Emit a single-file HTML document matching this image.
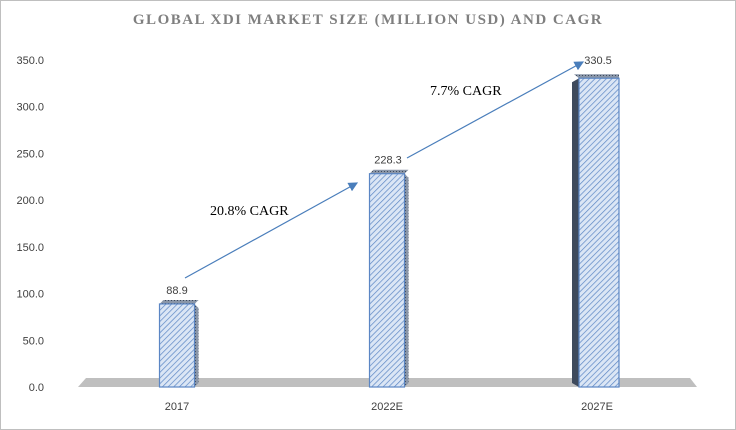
<!DOCTYPE html>
<html><head><meta charset="utf-8"><style>
body{margin:0;background:#fff}
svg{display:block;font-family:"Liberation Sans",sans-serif}
</style></head><body>
<svg width="736" height="430" viewBox="0 0 736 430">
<defs>
<pattern id="hatch" width="4" height="4" patternUnits="userSpaceOnUse" patternTransform="rotate(45)">
<rect width="4" height="4" fill="#dbe6f5"/><line x1="0" y1="0" x2="0" y2="4" stroke="#5b86c4" stroke-width="1.4"/>
</pattern>
<pattern id="dots" width="3" height="3" patternUnits="userSpaceOnUse">
<rect width="3" height="3" fill="#8a96a8"/><rect width="1" height="1" fill="#3e4a5c"/>
</pattern>
<marker id="ah" markerWidth="8" markerHeight="8" refX="7" refY="4" orient="auto"><path d="M0,0 L8,4 L0,8 z" fill="#4a7ebb"/></marker>
</defs>
<rect x="0.5" y="0.5" width="735" height="429" fill="#fff" stroke="#bfbfbf"/>
<text x="368" y="24" text-anchor="middle" font-family="Liberation Serif,serif" font-weight="bold" font-size="15" fill="#7f7f7f" letter-spacing="1.5">GLOBAL XDI MARKET SIZE (MILLION USD) AND CAGR</text>
<g id="yaxis"></g>
<polygon points="86,378 690,378 697,387 78,387" fill="#bfbfbf"/>
<g id="bars"></g>
<line x1="185" y1="278" x2="357" y2="183" stroke="#4a7ebb" stroke-width="1.2" marker-end="url(#ah)"/>
<line x1="407" y1="158" x2="583" y2="62" stroke="#4a7ebb" stroke-width="1.2" marker-end="url(#ah)"/>
<text x="210" y="215" font-family="Liberation Serif,serif" font-size="14" fill="#000">20.8% CAGR</text>
<text x="430" y="95" font-family="Liberation Serif,serif" font-size="14" fill="#000">7.7% CAGR</text>
</svg>
<script>
const categories=["2017","2022E","2027E"];
const values=[88.9,228.3,330.5];
const ticks=[0,50,100,150,200,250,300,350];
const NS="http://www.w3.org/2000/svg";
const y=v=>387-v*(327/350);
const xc=i=>177+i*210;
function mk(t,a,p){const e=document.createElementNS(NS,t);for(const k in a)e.setAttribute(k,a[k]);p.appendChild(e);return e;}
const ya=document.getElementById('yaxis');
ticks.forEach(t=>{const e=mk('text',{x:44,y:y(t)+4,'text-anchor':'end','font-size':11,fill:'#404040'},ya);


e.textContent=t.toFixed(1);});
const g=document.getElementById('bars');
values.forEach((v,i)=>{
const c=xc(i),top=y(v),bw=i==2?40:35,l=c-bw/2+(i==2?2:0),r=l+bw;
const grp=mk('g',{},g);


if(i==2){mk('polygon',{points:`${l-7},${top+4} ${l},${top} ${l},387 ${l-7},383`,fill:'#3e4a5c'},grp);}
else{mk('polygon',{points:`${r},${top} ${r+4},${top+4} ${r+4},383 ${r},387`,fill:'url(#dots)'},grp);}
mk('polygon',{points:`${l},${top} ${r},${top} ${r+(i==2?0:4)},${top-4} ${l+(i==2?-5:4)},${top-4}`,fill:'url(#dots)'},grp);
mk('rect',{x:l,y:top,width:bw,height:387-top,fill:'url(#hatch)',stroke:'#5b86c4','stroke-width':1.2},grp);
const lb=mk('text',{x:c+(i==0?0:1),y:top-(i==2?14:10),'text-anchor':'middle','font-size':11,fill:'#404040'},g);


lb.textContent=v.toFixed(1);
const cl=mk('text',{x:c,y:410,'text-anchor':'middle','font-size':11,fill:'#404040'},g);


cl.textContent=categories[i];
});
</script>
</body></html>
